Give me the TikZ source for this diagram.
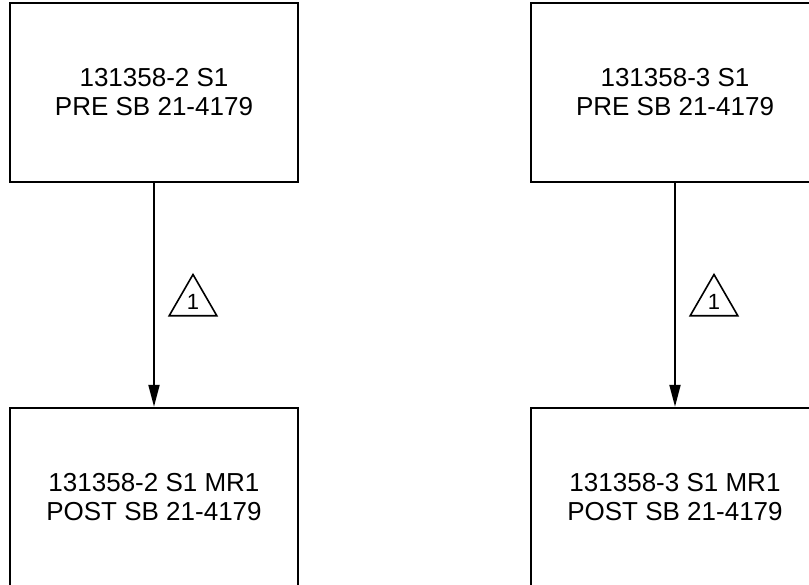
\documentclass[tikz,border=0pt]{standalone}
\usepackage{fontspec}
\setmainfont{Liberation Sans}
\usetikzlibrary{arrows.meta, shapes.geometric}

\tikzset{
  stage/.style={draw, line width=2.4pt, minimum width=288pt, minimum height=179pt,
    inner sep=0pt, align=center, font=\fontsize{26}{29}\selectfont},
  revmark/.style={draw, line width=1.6pt, regular polygon, regular polygon sides=3,
    minimum size=55pt, inner sep=0pt, font=\fontsize{22}{22}\selectfont},
  flow/.style={line width=2pt, -{Triangle[length=22pt, width=11pt]}}
}

\begin{document}
\begin{tikzpicture}[x=1pt, y=1pt]
  \useasboundingbox (0,0) rectangle (809,-585);

  % Left column
  \node[stage] (pre2) at (154,-92.5) {131358-2 S1\\PRE SB 21-4179};
  \node[stage] (post2) at (154,-497.5) {131358-2 S1 MR1\\POST SB 21-4179};
  \draw[flow] (pre2) -- (post2);
  \node[revmark] (rev2) at (193,-302) {1};

  % Right column
  \node[stage] (pre3) at (675,-92.5) {131358-3 S1\\PRE SB 21-4179};
  \node[stage] (post3) at (675,-497.5) {131358-3 S1 MR1\\POST SB 21-4179};
  \draw[flow] (pre3) -- (post3);
  \node[revmark] (rev3) at (714,-302) {1};

\end{tikzpicture}
\end{document}
